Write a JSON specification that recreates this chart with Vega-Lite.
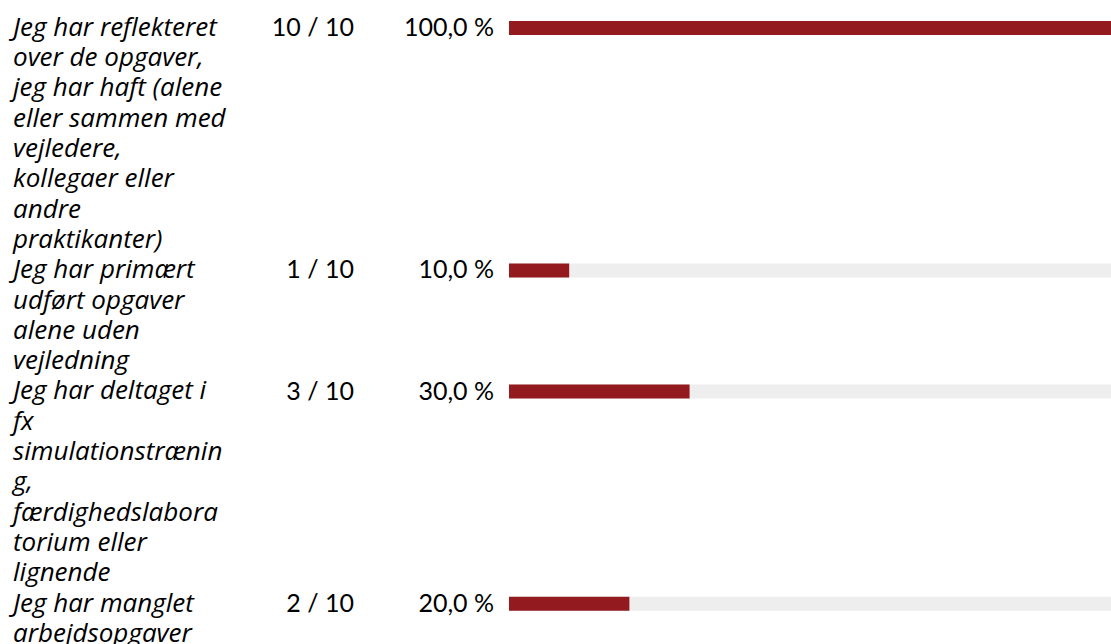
{
  "$schema": "https://vega.github.io/schema/vega-lite/v6.json",
  "width": 1111,
  "height": 644,
  "autosize": {"type": "fit", "contains": "padding"},
  "padding": 0,
  "background": "white",
  "config": {
    "view": {"stroke": null},
    "locale": {"number": {"decimal": ",", "thousands": ".", "grouping": [3], "currency": ["", " kr."], "percent": "\u00a0%"}}
  },
  "data": {
    "values": [
      {"svar": ["Jeg har reflekteret", "over de opgaver,", "jeg har haft (alene", "eller sammen med", "vejledere,", "kollegaer eller", "andre", "praktikanter)"], "antal": 10, "ialt": 10, "andel": 1.0},
      {"svar": ["Jeg har primært", "udført opgaver", "alene uden", "vejledning"], "antal": 1, "ialt": 10, "andel": 0.1},
      {"svar": ["Jeg har deltaget i", "fx", "simulationstrænin", "g,", "færdighedslabora", "torium eller", "lignende"], "antal": 3, "ialt": 10, "andel": 0.3},
      {"svar": ["Jeg har manglet", "arbejdsopgaver"], "antal": 2, "ialt": 10, "andel": 0.2}
    ]
  },
  "transform": [
    {"calculate": "length(datum.svar)", "as": "linjer"},
    {"window": [{"op": "sum", "field": "linjer", "as": "slut"}], "frame": [null, 0]},
    {"calculate": "datum.slut - datum.linjer", "as": "start"},
    {"calculate": "datum.start + 0.5", "as": "midt"},
    {"calculate": "datum.antal + ' / ' + datum.ialt", "as": "antal_tekst"}
  ],
  "layer": [
    {
      "mark": {"type": "rule", "color": "#eeeeee", "strokeWidth": 14, "clip": true},
      "encoding": {
        "x": {"datum": 0, "type": "quantitative", "scale": {"domain": [-0.8455, 1], "nice": false, "zero": false}, "axis": null},
        "x2": {"datum": 1},
        "y": {"field": "midt", "type": "quantitative", "scale": {"domain": [-0.424, 20.83], "reverse": true, "nice": false, "zero": false}, "axis": null}
      }
    },
    {
      "mark": {"type": "rule", "color": "#931a1f", "strokeWidth": 14, "clip": true},
      "encoding": {
        "x": {"field": "andel", "type": "quantitative", "scale": {"domain": [-0.8455, 1], "nice": false, "zero": false}, "axis": null},
        "x2": {"datum": 0},
        "y": {"field": "midt", "type": "quantitative", "scale": {"domain": [-0.424, 20.83], "reverse": true, "nice": false, "zero": false}, "axis": null}
      }
    },
    {
      "mark": {"type": "text", "align": "left", "baseline": "line-top", "lineHeight": 30.3, "font": "Open Sans", "fontStyle": "italic", "fontSize": 26, "color": "#000000", "clip": true},
      "encoding": {
        "x": {"datum": -0.8239, "type": "quantitative", "scale": {"domain": [-0.8455, 1], "nice": false, "zero": false}, "axis": null},
        "y": {"field": "start", "type": "quantitative", "scale": {"domain": [-0.424, 20.83], "reverse": true, "nice": false, "zero": false}, "axis": null},
        "text": {"field": "svar", "type": "nominal"}
      }
    },
    {
      "mark": {"type": "text", "align": "right", "baseline": "middle", "font": "Lato", "fontSize": 25, "color": "#000000", "clip": true},
      "encoding": {
        "x": {"datum": -0.2575, "type": "quantitative", "scale": {"domain": [-0.8455, 1], "nice": false, "zero": false}, "axis": null},
        "y": {"field": "midt", "type": "quantitative", "scale": {"domain": [-0.424, 20.83], "reverse": true, "nice": false, "zero": false}, "axis": null},
        "text": {"field": "antal_tekst", "type": "nominal"}
      }
    },
    {
      "mark": {"type": "text", "align": "right", "baseline": "middle", "font": "Lato", "fontSize": 25, "color": "#000000", "clip": true},
      "encoding": {
        "x": {"datum": -0.0249, "type": "quantitative", "scale": {"domain": [-0.8455, 1], "nice": false, "zero": false}, "axis": null},
        "y": {"field": "midt", "type": "quantitative", "scale": {"domain": [-0.424, 20.83], "reverse": true, "nice": false, "zero": false}, "axis": null},
        "text": {"field": "andel", "type": "quantitative", "format": ".1%"}
      }
    }
  ]
}
